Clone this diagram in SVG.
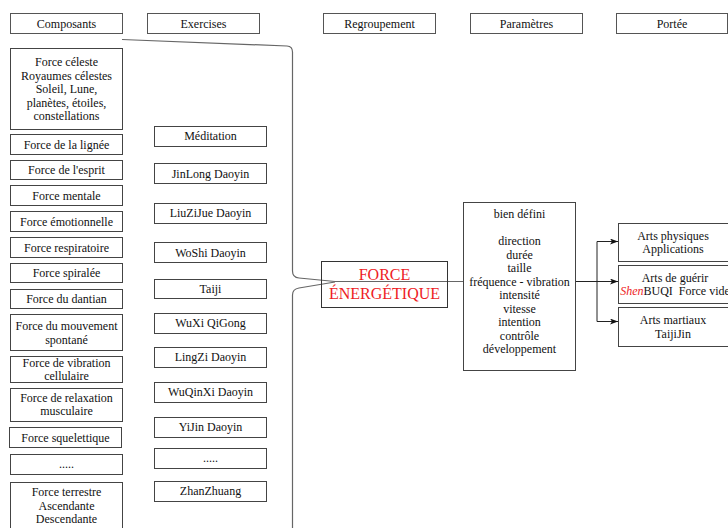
<svg xmlns="http://www.w3.org/2000/svg" width="728" height="528" viewBox="0 0 728 528">
<defs>
<style>
.b{fill:#fff;stroke:#444;stroke-width:1}
.h{fill:#fff;stroke:#555;stroke-width:1}
text{font-family:"Liberation Serif","Times New Roman",serif;font-size:12px;fill:#111;text-anchor:middle}
.red{fill:#ee1c25;font-size:16px}
.ln{fill:none;stroke:#222;stroke-width:1}
.br{fill:none;stroke:#666;stroke-width:1.2}
</style>
<marker id="ar" markerWidth="8" markerHeight="6" refX="8" refY="3" orient="auto" markerUnits="userSpaceOnUse">
<path d="M0,0 L8,3 L0,6 L2,3 Z" fill="#111"/>
</marker>
</defs>
<rect width="728" height="528" fill="#fff"/>

<g id="headers">
<g id="h-composants"><rect class="h" x="10.5" y="13.5" width="112" height="20"/><text x="66.5" y="27.5">Composants</text></g>
<g id="h-exercises"><rect class="h" x="147.5" y="13.5" width="112" height="20"/><text x="203.5" y="27.5">Exercises</text></g>
<g id="h-regroupement"><rect class="h" x="323.5" y="13.5" width="112" height="20"/><text x="379.5" y="27.5">Regroupement</text></g>
<g id="h-parametres"><rect class="h" x="470.5" y="13.5" width="112" height="20"/><text x="526.5" y="27.5">Paramètres</text></g>
<g id="h-portee"><rect class="h" x="616.5" y="13.5" width="111" height="20"/><text x="672" y="27.5">Portée</text></g>
</g>

<g id="connectors">
<path class="br" d="M122,39.5 L287,46 Q292.5,46.3 292.5,52 L292.5,271 Q292.5,277.5 299,278 L335,281.5 L463,281.5"/>
<path class="br" d="M292.5,528 L292.5,295 Q292.5,289 299,288 L335,282"/>
<path class="ln" d="M576,281.5 L618,281.5" marker-end="url(#ar)"/>
<path class="ln" d="M597,241.5 L597,321.5"/>
<path class="ln" d="M597,241.5 L618,241.5" marker-end="url(#ar)"/>
<path class="ln" d="M597,321.5 L618,321.5" marker-end="url(#ar)"/>
</g>

<g id="composants">
<g id="c1"><rect class="b" x="10.5" y="48.5" width="112" height="81"/>
<text x="66.5" y="66">Force céleste</text><text x="66.5" y="79.5">Royaumes célestes</text><text x="66.5" y="93">Soleil, Lune,</text><text x="66.5" y="106.5">planètes, étoiles,</text><text x="66.5" y="120">constellations</text></g>
<g id="c2"><rect class="b" x="10.5" y="134.5" width="112" height="20"/><text x="66.5" y="148.5">Force de la lignée</text></g>
<g id="c3"><rect class="b" x="10.5" y="160.5" width="112" height="19"/><text x="66.5" y="174">Force de l'esprit</text></g>
<g id="c4"><rect class="b" x="10.5" y="185.5" width="112" height="20"/><text x="66.5" y="199.5">Force mentale</text></g>
<g id="c5"><rect class="b" x="10.5" y="211.5" width="112" height="20"/><text x="66.5" y="225.5">Force émotionnelle</text></g>
<g id="c6"><rect class="b" x="10.5" y="237.5" width="112" height="20"/><text x="66.5" y="251.5">Force respiratoire</text></g>
<g id="c7"><rect class="b" x="10.5" y="263.5" width="112" height="19"/><text x="66.5" y="277">Force spiralée</text></g>
<g id="c8"><rect class="b" x="10.5" y="289.5" width="112" height="19"/><text x="66.5" y="303">Force du dantian</text></g>
<g id="c9"><rect class="b" x="10.5" y="314.5" width="112" height="36"/><text x="66.5" y="330">Force du mouvement</text><text x="66.5" y="343.5">spontané</text></g>
<g id="c10"><rect class="b" x="10.5" y="356.5" width="112" height="26"/><text x="66.5" y="367">Force de vibration</text><text x="66.5" y="380">cellulaire</text></g>
<g id="c11"><rect class="b" x="10.5" y="388.5" width="112" height="33"/><text x="66.5" y="401.5">Force de relaxation</text><text x="66.5" y="415">musculaire</text></g>
<g id="c12"><rect class="b" x="9.5" y="427.5" width="112" height="20"/><text x="65.5" y="441.5">Force squelettique</text></g>
<g id="c13"><rect class="b" x="10.5" y="454.5" width="112" height="20"/><text x="66.5" y="468">.....</text></g>
<g id="c14"><rect class="b" x="10.5" y="482.5" width="112" height="60"/><text x="66.5" y="496">Force terrestre</text><text x="66.5" y="509.5">Ascendante</text><text x="66.5" y="523">Descendante</text></g>
</g>

<g id="exercises">
<g id="e1"><rect class="b" x="154.5" y="126.5" width="112" height="20"/><text x="210.5" y="140">Méditation</text></g>
<g id="e2"><rect class="b" x="154.5" y="163.5" width="112" height="20"/><text x="210.5" y="177.5">JinLong Daoyin</text></g>
<g id="e3"><rect class="b" x="154.5" y="203.5" width="112" height="20"/><text x="210.5" y="217">LiuZiJue Daoyin</text></g>
<g id="e4"><rect class="b" x="154.5" y="242.5" width="112" height="20"/><text x="210.5" y="256.5">WoShi Daoyin</text></g>
<g id="e5"><rect class="b" x="154.5" y="279.5" width="112" height="19"/><text x="210.5" y="293">Taiji</text></g>
<g id="e6"><rect class="b" x="154.5" y="313.5" width="112" height="20"/><text x="210.5" y="327">WuXi QiGong</text></g>
<g id="e7"><rect class="b" x="154.5" y="347.5" width="112" height="20"/><text x="210.5" y="361">LingZi Daoyin</text></g>
<g id="e8"><rect class="b" x="154.5" y="382.5" width="112" height="20"/><text x="210.5" y="396">WuQinXi Daoyin</text></g>
<g id="e9"><rect class="b" x="154.5" y="417.5" width="112" height="20"/><text x="210.5" y="431">YiJin Daoyin</text></g>
<g id="e10"><rect class="b" x="154.5" y="448.5" width="112" height="20"/><text x="210.5" y="462">.....</text></g>
<g id="e11"><rect class="b" x="154.5" y="481.5" width="112" height="20"/><text x="210.5" y="495">ZhanZhuang</text></g>
</g>

<g id="force">
<rect fill="none" stroke="#333" stroke-width="1" x="321.5" y="261.5" width="126" height="46"/>
<text class="red" x="384.5" y="280">FORCE</text>
<text class="red" x="384.5" y="298.5">ÉNERGÉTIQUE</text>
</g>

<g id="parametres">
<rect class="b" x="463.5" y="202.5" width="112" height="168"/>
<text x="519.5" y="218">bien défini</text>
<text x="519.5" y="245">direction</text>
<text x="519.5" y="258.5">durée</text>
<text x="519.5" y="272">taille</text>
<text x="519.5" y="285.5">fréquence - vibration</text>
<text x="519.5" y="299">intensité</text>
<text x="519.5" y="312.5">vitesse</text>
<text x="519.5" y="326">intention</text>
<text x="519.5" y="339.5">contrôle</text>
<text x="519.5" y="353">développement</text>
</g>

<g id="portee">
<g id="p1"><rect class="b" x="618.5" y="223.5" width="120" height="38"/><text x="673" y="239.5">Arts physiques</text><text x="673" y="253">Applications</text></g>
<g id="p2"><rect class="b" x="618.5" y="265.5" width="120" height="38"/><text x="675" y="281.5">Arts de guérir</text><text x="675" y="295" style="white-space:pre"><tspan fill="#ee1c25" font-style="italic">Shen</tspan>BUQI  Force vide</text></g>
<g id="p3"><rect class="b" x="618.5" y="307.5" width="120" height="39"/><text x="673" y="324">Arts martiaux</text><text x="673" y="337.5">TaijiJin</text></g>
</g>
</svg>
